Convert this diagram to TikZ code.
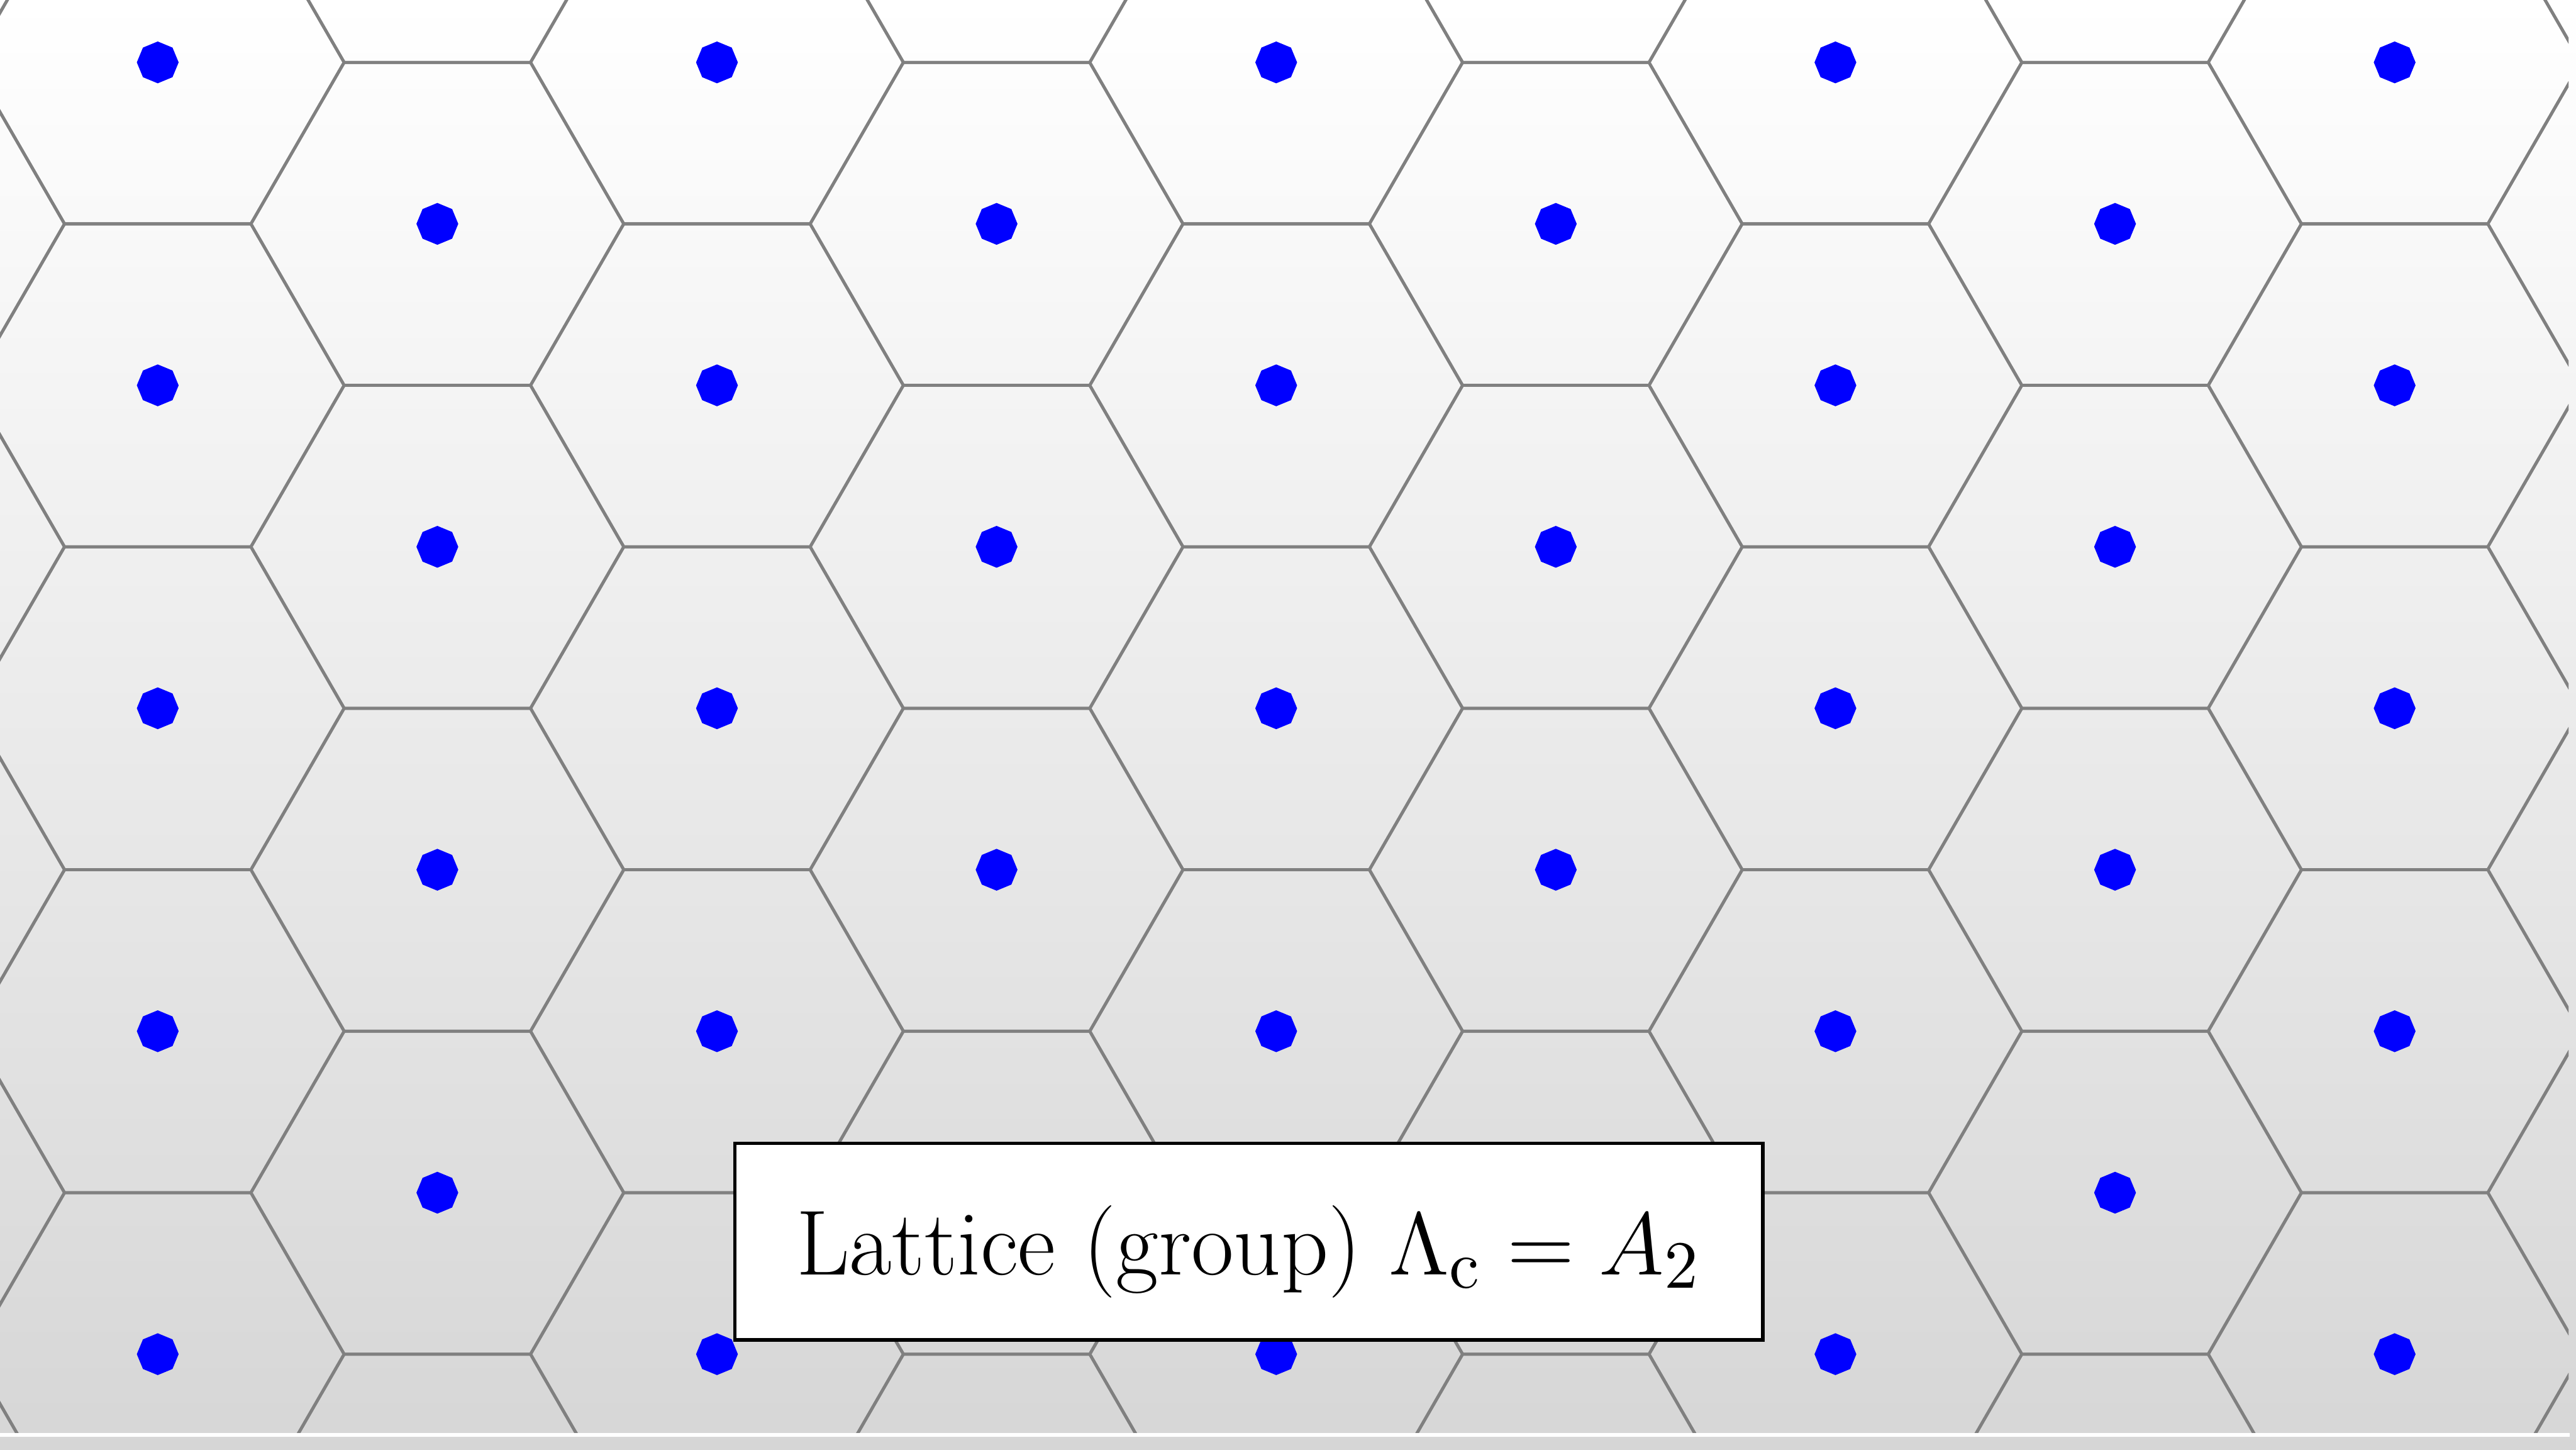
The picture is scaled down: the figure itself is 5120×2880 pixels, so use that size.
\documentclass[tikz,border=0pt]{standalone}
\usepackage{graphicx}
\usetikzlibrary{shapes.geometric}
\tikzset{
  hexline/.style={draw={rgb,255:red,128;green,128;blue,128}, line width=0.53pt},
  latdot/.style={regular polygon, regular polygon sides=8, shape border rotate=22.5,
    fill={rgb,255:red,0;green,0;blue,255}, draw=none, inner sep=0pt, outer sep=0pt,
    minimum size=2.6mm},
  labelbox/.style={draw=black, line width=0.62pt, fill=white, inner sep=0pt,
    minimum width=6.39cm, minimum height=1.222cm, text height=15pt, text depth=3.3pt,
    font=\fontsize{15}{18}\selectfont}
}
\begin{document}
\begin{tikzpicture}[x=0.003125cm, y=-0.003125cm]
\useasboundingbox (0,0) rectangle (5120,2880);
\shade[top color=white, bottom color=gray!32] (0,0) rectangle (5120,2880);
\begin{scope}
  \clip (-10,-10) rectangle (5105,2851);
  \foreach \i in {-1,...,9}{
    \foreach \k in {-1,...,5}{
      \pgfmathsetmacro{\cx}{313.5+555.75*\i}
      \pgfmathsetmacro{\cy}{124+641.7*\k+320.85*Mod(\i,2)}
      \draw[hexline] (\cx,\cy) +(370.5,0) -- +(185.25,320.85) -- +(-185.25,320.85)
        -- +(-370.5,0) -- +(-185.25,-320.85) -- +(185.25,-320.85) -- cycle;
    }
  }
  \foreach \i in {0,...,8}{
    \foreach \k in {0,...,4}{
      \pgfmathsetmacro{\cx}{313.5+555.75*\i}
      \pgfmathsetmacro{\cy}{124+641.7*\k+320.85*Mod(\i,2)}
      \node[latdot] (d\i-\k) at (\cx,\cy) {};
    }
  }
\end{scope}
\coordinate (wl) at (0,2851);
\coordinate (wr) at (5107,2851);
\draw[white, line width=0.71pt] (wl) -- (wr);
\node[labelbox] (label) at (2482,2467) {\scalebox{1.09}{Lattice (group) $\Lambda_{\mathrm{c}} = A_2$}};
\end{tikzpicture}
\end{document}
